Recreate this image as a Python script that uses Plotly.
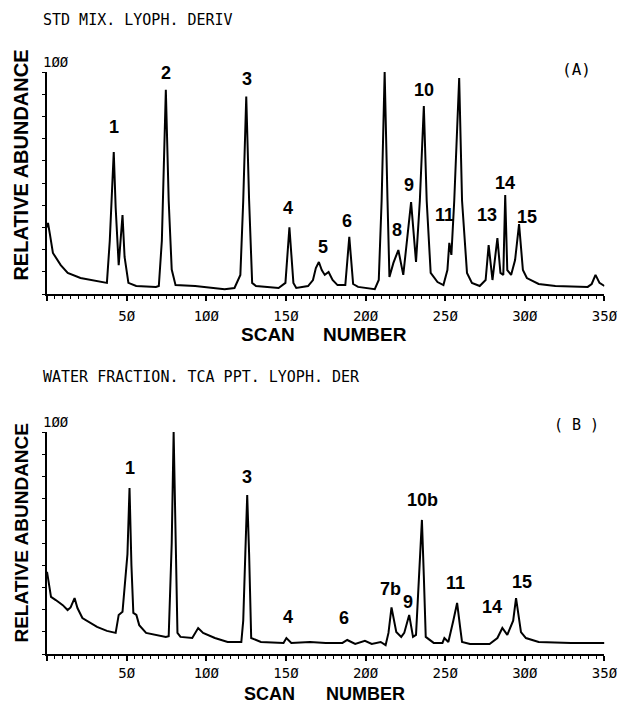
import plotly.graph_objects as go

# ---------------- data ----------------
scan_a = [0, 0.6, 1.8, 3.7, 8.6, 13, 21, 35.7, 37.6, 39.4, 41.9, 43.1, 45, 47.4, 48.7, 51.1,
          56, 68.4, 70.2, 72.1, 74.6, 76.4, 78.3, 80.7, 93, 111.5, 117.7, 121.4, 123.2, 125.1,
          126.9, 128.8, 131.2, 145.4, 149.7, 152.2, 154.7, 156.5, 163.9, 167, 168.8, 170.7,
          172.5, 174.4, 176.8, 179.3, 182.4, 187.3, 189.8, 192.2, 195.3, 205.8, 208.3, 210.1,
          212, 213.8, 215, 217.5, 220.6, 223.7, 226.1, 228.6, 231.7, 234.1, 236.6, 238.4,
          240.9, 245.2, 248.9, 251.4, 252.6, 253.9, 255.7, 258.8, 260.6, 263.7, 266.8, 271.7,
          275.4, 277.3, 279.7, 281.6, 282.8, 284.7, 286.5, 287.7, 289, 291.4, 293.9, 296.4,
          298.8, 301.3, 308.7, 319.2, 330.3, 339.5, 342, 344.4, 346.9, 350]
abund_a = [30, 32, 27, 18.5, 13, 9.5, 7.2, 5.4, 5, 24, 64, 39, 13, 35.6, 16.7, 5,
           3.6, 3.2, 3.6, 24, 92, 42, 11, 4, 3.6, 2.2, 2.7, 8.6, 42, 89,
           42, 5, 3.6, 2.7, 5, 30, 5, 2.7, 3.6, 6.3, 11.7, 14.4,
           10.8, 8.6, 9.9, 6.3, 4, 4, 25.7, 4.5, 3.2, 2.2, 6.3, 42,
           100, 42, 7.7, 14, 19.8, 8.6, 24, 41.4, 14.4, 42, 84.7, 42,
           9.5, 5.4, 4, 10.8, 23, 17.6, 42, 97.3, 42, 9.5, 5, 3.6,
           6.3, 22, 6.3, 17.6, 25.2, 9.5, 8.6, 44.6, 10.8, 8.6, 15.3, 31.5,
           10.8, 7.2, 4.5, 3.6, 3.2, 3.2, 4.5, 8.6, 5, 3.6]

scan_b = [0, 0.3, 2.5, 5.5, 9.9, 12.9, 14.8, 17.3, 19.1, 22.2, 26.5, 31.4, 37.6, 43.1, 45,
          47.4, 50.5, 51.8, 53, 54.2, 56.1, 57.9, 62.2, 68.4, 74.6, 76.4, 78.3, 79.5, 80.7,
          81.9, 83.8, 91.2, 94.9, 98, 105.4, 113.4, 122, 123.2, 124.5, 125.7, 126.9, 128.2,
          134.3, 144.2, 148.5, 150.3, 153.4, 165.1, 175, 185.5, 188.5, 193.5, 199.6, 203.9,
          209.5, 212.6, 214.4, 216.3, 219.3, 222.4, 224.3, 227.4, 229.8, 231.7, 233.5, 235.4,
          236.6, 237.8, 242.8, 248.3, 249.5, 252, 255.1, 257.5, 259.4, 260.6, 265.6, 277.9,
          282.8, 285.9, 289, 292.7, 294.5, 297.6, 300.7, 308.7, 329, 350]
abund_b = [37, 35.6, 25.7, 24.3, 22, 19.8, 21, 25.2, 20.7, 16.2, 14.4, 12.2, 10.4, 9.5, 17.6,
           19, 45, 74.8, 40, 18.5, 17.6, 13, 9.5, 8.6, 7.7, 8, 50, 100, 50,
           9.5, 7.7, 7.2, 11.7, 9.5, 7.2, 5.4, 5.4, 15, 45, 71.6, 45, 7.2,
           5.4, 5, 5, 7.2, 5, 5.4, 5, 5, 6.3, 4.5, 5.9, 4.5,
           5.4, 4, 9.5, 21, 9.9, 7.7, 9.5, 17.6, 7.7, 8.6, 35, 60.4,
           35, 7.7, 5, 5, 7.2, 5.4, 15, 23, 12, 5.4, 4.5, 4.5,
           7.2, 11.7, 8.6, 15, 25.2, 9.9, 7.2, 5.4, 5, 5]

labels_a = ["1", "2", "3", "4", "5", "6", "7", "8", "9", "10", "11", "12", "13", "14", "15"]
label_scan_a = [41.9, 75, 125.7, 151.6, 173, 188.5, 212, 220, 227.5, 236.6, 249.5, 258.8, 276, 287.7, 301.3]
label_y_a = [75, 99.5, 97, 38.7, 21, 33, 108.6, 29, 49, 92, 35.6, 105, 35.6, 50, 34.7]

labels_b = ["1", "2", "3", "4", "6", "7b", "9", "10b", "11", "14", "15"]
label_scan_b = [51.8, 79.5, 125.7, 151.6, 186.7, 215.7, 226.7, 236, 256.3, 279.7, 298.2]
label_y_b = [83.8, 108, 79.7, 16.7, 16.2, 29.3, 23.4, 69.4, 32, 21, 32.4]

x_tick_vals = [0, 50, 100, 150, 200, 250, 300, 350]
x_tick_text = ["", "5Ø", "1ØØ", "15Ø", "2ØØ", "25Ø", "3ØØ", "35Ø"]

title_a = "STD MIX. LYOPH. DERIV"
title_b = "WATER FRACTION. TCA PPT. LYOPH. DER"

# ---------------- figure ----------------
W, H = 638, 703
fig = go.Figure()
fig.add_trace(go.Scatter(x=scan_a, y=abund_a, mode="lines",
                         line=dict(color="black", width=2), xaxis="x", yaxis="y",
                         showlegend=False, hoverinfo="skip"))
fig.add_trace(go.Scatter(x=scan_b, y=abund_b, mode="lines",
                         line=dict(color="black", width=2), xaxis="x2", yaxis="y2",
                         showlegend=False, hoverinfo="skip"))

mono = "DejaVu Sans Mono"
sans = "Liberation Sans, Arial"

def xax(anchor, standoff):
    return dict(domain=[48 / W, 617 / W], range=[0, 350], anchor=anchor,
                showline=True, linecolor="black", linewidth=2, showgrid=False, zeroline=False,
                tickvals=x_tick_vals, ticktext=x_tick_text, ticks="outside", ticklen=5,
                tickwidth=1.5, tickcolor="black", ticklabelstandoff=standoff,
                tickfont=dict(family=mono, size=14, color="black"),
                minor=dict(dtick=5, ticks="outside", ticklen=3, tickwidth=1, tickcolor="black"))

def yax(anchor, top, bottom):
    return dict(domain=[1 - bottom / H, 1 - top / H], range=[0, 100], anchor=anchor,
                showline=True, linecolor="black", linewidth=2, showgrid=False, zeroline=False,
                dtick=10, ticks="outside", ticklen=3, tickwidth=1, tickcolor="black",
                showticklabels=False)

fig.update_layout(
    width=W, height=H, margin=dict(l=0, r=0, t=0, b=0),
    paper_bgcolor="white", plot_bgcolor="white",
    xaxis=xax("y", 3), yaxis=yax("x", 72, 294),
    xaxis2=xax("y2", 0), yaxis2=yax("x2", 432, 654),
)

ann = []
for t, sx, sy in zip(labels_a, label_scan_a, label_y_a):
    ann.append(dict(x=sx, y=sy, xref="x", yref="y", text=t, showarrow=False,
                    font=dict(family=sans, size=18, color="black", weight="bold")))
for t, sx, sy in zip(labels_b, label_scan_b, label_y_b):
    ann.append(dict(x=sx, y=sy, xref="x2", yref="y2", text=t, showarrow=False,
                    font=dict(family=sans, size=18, color="black", weight="bold")))

def pt(px, py, text, size, family, xanchor="center", angle=0, bold=False):
    f = dict(family=family, size=size, color="black")
    if bold:
        f["weight"] = "bold"
    return dict(x=px / W, y=1 - py / H, xref="paper", yref="paper", text=text,
                showarrow=False, xanchor=xanchor, yanchor="middle", textangle=angle, font=f)

ann += [
    pt(42, 20, title_a, 15, mono, xanchor="left"),
    pt(42, 377, title_b, 15, mono, xanchor="left"),
    pt(57, 62, "1ØØ", 14, mono),
    pt(57, 422, "1ØØ", 14, mono),
    pt(589, 70, "(A)", 16, mono),
    pt(588, 425, "( B )", 15, mono),
    pt(21, 165, "RELATIVE ABUNDANCE", 20, sans, angle=-90, bold=True),
    pt(21, 533, "RELATIVE ABUNDANCE", 19, sans, angle=-90, bold=True),
    pt(274, 334, "SCAN", 19, sans, bold=True),
    pt(373, 334, "NUMBER", 19, sans, bold=True),
    pt(275, 694, "SCAN", 18, sans, bold=True),
    pt(373, 694, "NUMBER", 18, sans, bold=True),
]
fig.update_layout(annotations=ann)

fig.write_html("out.html")
